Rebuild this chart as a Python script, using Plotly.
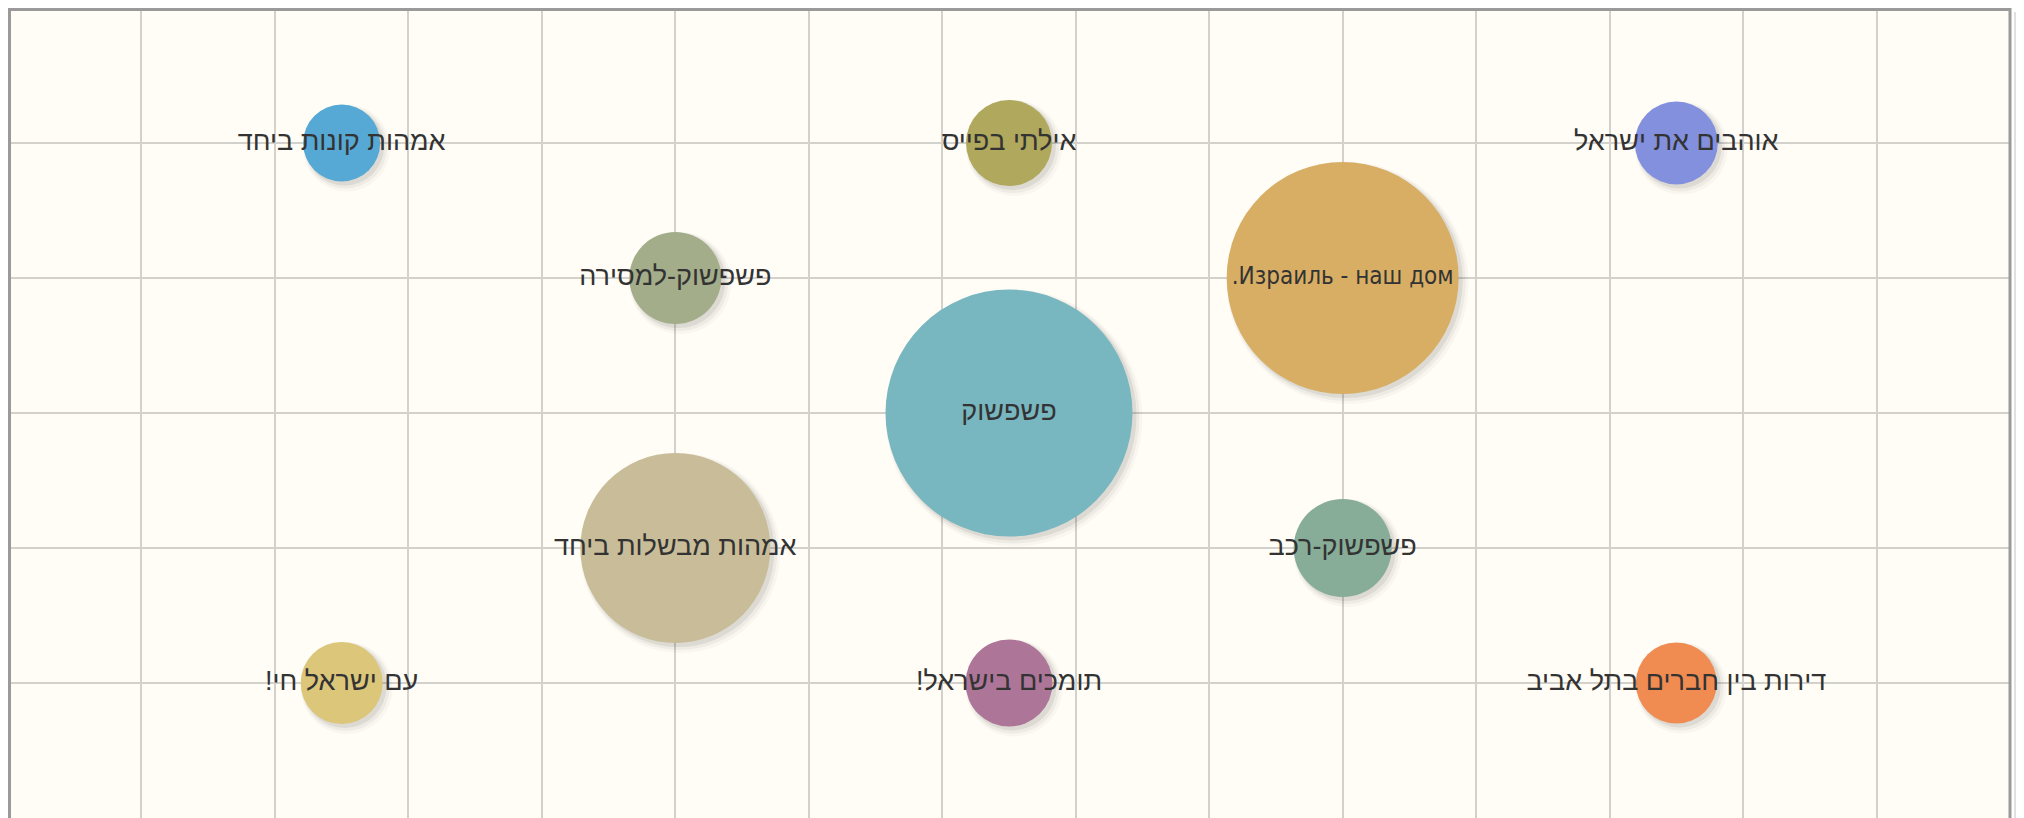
import plotly.graph_objects as go

labels = [
    "אמהות קונות ביחד",
    "אילתי בפייס",
    "אוהבים את ישראל",
    "פשפשוק-למסירה",
    "Израиль - наш дом.",
    "פשפשוק",
    "אמהות מבשלות ביחד",
    "פשפשוק-רכב",
    "עם ישראל חי!",
    "תומכים בישראל!",
    "דירות בין חברים בתל אביב",
]
x_vals = [2.5, 7.5, 12.5, 5, 10, 7.5, 5, 10, 2.5, 7.5, 12.5]
y_vals = [5, 5, 5, 4, 4, 3, 2, 2, 1, 1, 1]
sizes = [77, 86, 83, 92, 232, 247, 190, 98, 82, 87, 81]
colors = [
    "#57a9d5", "#b0a85c", "#8290de", "#a4ad89", "#d8ae64", "#78b6c0",
    "#c8bd98", "#87ac98", "#dbc67a", "#ad7699", "#f08c52",
]

X_RANGE = [0, 15]
Y_RANGE = [0, 6]
W, H = 2016, 810
ML, MR, MT, MB = 0, 14, 0, 0
px_x = (X_RANGE[1] - X_RANGE[0]) / (W - ML - MR)
px_y = (Y_RANGE[1] - Y_RANGE[0]) / (H - MT - MB)

# right-to-left embedding so punctuation sits as in the original
rtl_text = ["\u202b" + t + "\u202c" for t in labels]
is_cyr = [any("\u0400" <= ch <= "\u04ff" for ch in t) for t in labels]
fonts = ["DejaVu Sans Condensed, DejaVu Sans" if c else "Liberation Sans" for c in is_cyr]
font_sizes = [24 if c else 27 for c in is_cyr]

fig = go.Figure()

# soft drop shadow layers
for grow, off, alpha in [(10, 5, 0.04), (6, 4, 0.06), (2, 3, 0.10)]:
    fig.add_trace(go.Scatter(
        x=[v + off * px_x for v in x_vals],
        y=[v - off * px_y for v in y_vals],
        mode="markers",
        marker=dict(size=[s + grow for s in sizes], sizemode="diameter", sizeref=1,
                    color=f"rgba(0,0,0,{alpha})", line=dict(width=0)),
        hoverinfo="skip", showlegend=False,
    ))

fig.add_trace(go.Scatter(
    x=x_vals, y=y_vals,
    mode="markers+text",
    text=rtl_text,
    textposition="middle center",
    textfont=dict(family=fonts, size=font_sizes, color="#333333"),
    marker=dict(size=sizes, sizemode="diameter", sizeref=1, color=colors,
                opacity=1, line=dict(width=0)),
    showlegend=False,
))

grid = dict(showgrid=True, gridcolor="#d3d1cc", gridwidth=2, dtick=1, tick0=0,
            showticklabels=False, zeroline=False, showline=False, ticks="",
            fixedrange=True)

fig.update_layout(
    width=W, height=H,
    margin=dict(l=ML, r=MR, t=MT, b=MB),
    paper_bgcolor="#ffffff",
    plot_bgcolor="#fffdf6",
    xaxis=dict(range=X_RANGE, **grid),
    yaxis=dict(range=Y_RANGE, **grid),
    shapes=[
        dict(type="line", xref="paper", yref="paper", x0=1.003, x1=1.003, y0=0, y1=0.995,
             line=dict(color="rgba(0,0,0,0.12)", width=4)),
        dict(type="line", xref="paper", yref="paper", x0=0, x1=0, y0=0, y1=1,
             line=dict(color="#9a9a9a", width=6)),
        dict(type="line", xref="paper", yref="paper", x0=0, x1=1, y0=1, y1=1,
             line=dict(color="#9a9a9a", width=6)),
        dict(type="line", xref="paper", yref="paper", x0=1, x1=1, y0=0, y1=1,
             line=dict(color="#9a9a9a", width=3)),
    ],
)

fig.write_html("out.html")
